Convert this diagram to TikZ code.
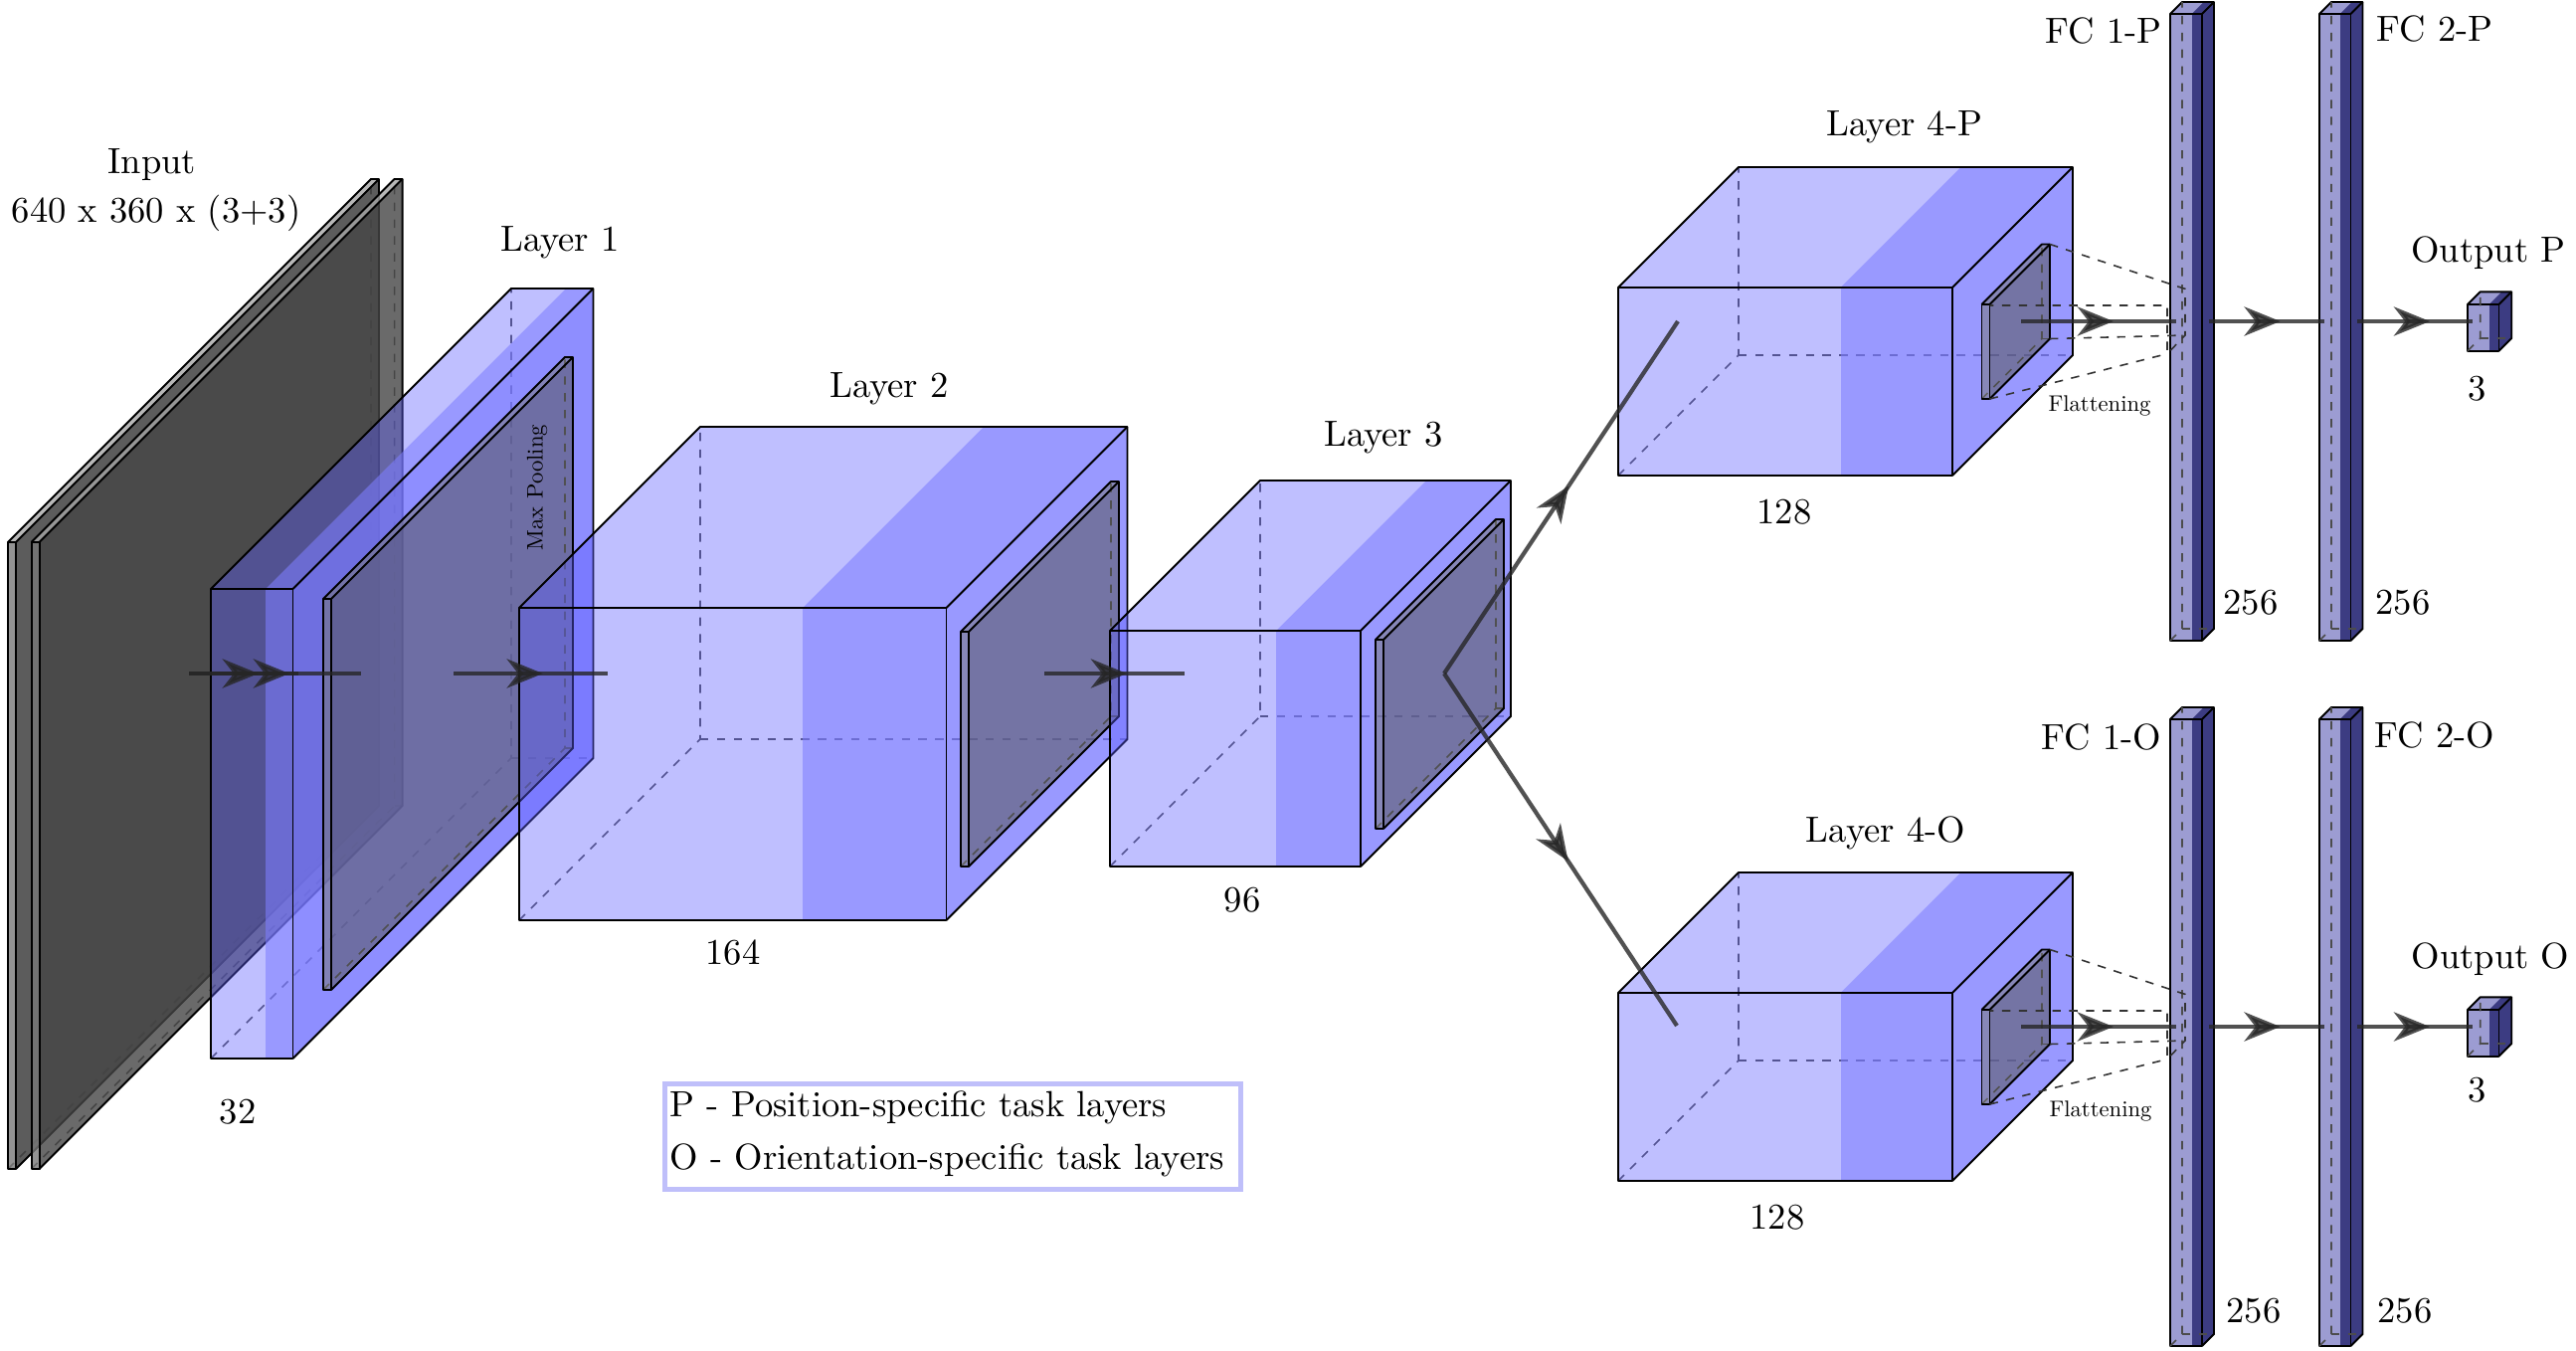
\documentclass[tikz,border=0pt]{standalone}
\usetikzlibrary{arrows.meta,decorations.markings}
\definecolor{lightface}{RGB}{96,96,255}
\definecolor{darkface}{RGB}{119,119,255}
\definecolor{fclight}{RGB}{156,156,210}
\definecolor{fcdark}{RGB}{60,60,130}
\definecolor{legendc}{RGB}{191,191,250}
\tikzset{
  boxedge/.style={draw=black, line width=0.55pt, line join=round},
  hiddenedge/.style={draw=black!70, line width=0.45pt, dash pattern=on 2.4pt off 2.4pt},
  lightf/.style={fill=lightface, fill opacity=0.4},
  darkf/.style={fill=darkface, fill opacity=0.75},
  darkfb/.style={fill=darkface, fill opacity=0.83},
  fcl/.style={fill=fclight},
  fcd/.style={fill=fcdark},
  poolfront/.style={fill=black!53, fill opacity=0.53},
  poolright/.style={fill=black!67, fill opacity=0.53},
  inpfront/.style={fill=black!53, fill opacity=0.8},
  inptop/.style={fill=black!35, fill opacity=0.8},
  inprightA/.style={fill=black!75, fill opacity=0.85},
  inprightB/.style={fill=black!73, fill opacity=0.8},
  flowline/.style={draw=black!85, line width=1.2pt, opacity=0.8},
  midarrow/.style={postaction={decorate,decoration={markings,mark=at position #1 with {\arrow{Stealth[length=10.3pt,width=8.3pt,inset=3.2pt]}}}}},
  lbl/.style={font=\fontsize{10.4}{12.5}\selectfont, inner sep=0pt},
  smalllbl/.style={font=\fontsize{10.4}{12.5}\selectfont, inner sep=0pt, scale=0.62},
  flatline/.style={draw=black!80, line width=0.45pt, dash pattern=on 2.4pt off 2.4pt},
}
% hidden edges: x, ybottom, W, h, d
\newcommand{\LHid}[5]{%
  \draw[hiddenedge] (#1,#2) -- ++(#5,-#5) -- ++(0,-#4);
  \draw[hiddenedge] (#1+#5,#2-#5) -- (#1+#3+#5,#2-#5);
}
% two-part box: x, ybottom, W, split, h, d, light, dark, right
\newcommand{\LBox}[9]{%
  \LHid{#1}{#2}{#3}{#5}{#6}%
  \fill[#7] (#1,#2) rectangle (#1+#4,#2-#5);
  \fill[#7] (#1,#2-#5) -- (#1+#4,#2-#5) -- ++(#6,-#6) -- (#1+#6,#2-#5-#6) -- cycle;
  \fill[#8] (#1+#4,#2) rectangle (#1+#3,#2-#5);
  \fill[#8] (#1+#4,#2-#5) -- (#1+#3,#2-#5) -- ++(#6,-#6) -- (#1+#4+#6,#2-#5-#6) -- cycle;
  \fill[#9] (#1+#3,#2) -- ++(#6,-#6) -- ++(0,-#5) -- (#1+#3,#2-#5) -- cycle;
  \draw[boxedge] (#1,#2) rectangle (#1+#3,#2-#5);
  \draw[boxedge] (#1,#2-#5) -- ++(#6,-#6) -- ++(#3,0) -- ++(0,#5) -- (#1+#3,#2);
  \draw[boxedge] (#1+#3,#2-#5) -- ++(#6,-#6);
}
% slab: x, ybottom, w, h, d, front, top, right
\newcommand{\Slab}[8]{%
  \LHid{#1}{#2}{#3}{#4}{#5}%
  \fill[#6] (#1,#2) rectangle (#1+#3,#2-#4);
  \fill[#7] (#1,#2-#4) -- (#1+#3,#2-#4) -- ++(#5,-#5) -- (#1+#5,#2-#4-#5) -- cycle;
  \fill[#8] (#1+#3,#2) -- ++(#5,-#5) -- ++(0,-#4) -- (#1+#3,#2-#4) -- cycle;
  \draw[boxedge] (#1,#2) rectangle (#1+#3,#2-#4);
  \draw[boxedge] (#1,#2-#4) -- ++(#5,-#5) -- ++(#3,0) -- ++(0,#4) -- (#1+#3,#2);
  \draw[boxedge] (#1+#3,#2-#4) -- ++(#5,-#5);
}
\begin{document}
\begin{tikzpicture}[x=0.01cm,y=-0.01cm]
\useasboundingbox (0,0) rectangle (2590,1357);
% input plates
\Slab{8}{1175}{8}{630}{365}{inpfront}{inptop}{inprightA}
\Slab{31.6}{1175}{8}{630}{365}{inpfront}{inptop}{inprightB}
% layer 1
\LBox{212}{1064}{82.5}{55}{472}{302}{lightf}{darkf}{darkfb}
\Slab{325}{995}{8}{393}{243}{poolfront}{poolfront}{poolright}
% layer 2
\LBox{522}{925}{429.5}{285}{314}{182}{lightf}{darkf}{darkf}
\Slab{966}{871}{8}{236}{151}{poolfront}{poolfront}{poolright}
% layer 3
\LBox{1116}{871}{252}{167}{237}{151}{lightf}{darkf}{darkf}
\Slab{1383}{833}{8}{190}{121}{poolfront}{poolfront}{poolright}
% layer 4
\LBox{1627}{478}{336}{223.5}{189}{121}{lightf}{darkf}{darkf}
\Slab{1992.5}{401}{8}{95}{60.5}{poolfront}{poolfront}{poolright}
\LBox{1627}{1187}{336}{223.5}{189}{121}{lightf}{darkf}{darkf}
\Slab{1992.5}{1110}{8}{95}{60.5}{poolfront}{poolfront}{poolright}
% fully connected
\LBox{2182}{644}{32}{21.5}{630}{12}{fcl}{fcd}{fcd}
\LHid{2182}{644}{32}{630}{12}
\LBox{2332}{644}{31.5}{20.5}{630}{12}{fcl}{fcd}{fcd}
\LHid{2332}{644}{31.5}{630}{12}
\LBox{2182}{1353}{32}{21.5}{630}{12}{fcl}{fcd}{fcd}
\LHid{2182}{1353}{32}{630}{12}
\LBox{2332}{1353}{31.5}{20.5}{630}{12}{fcl}{fcd}{fcd}
\LHid{2332}{1353}{31.5}{630}{12}
% outputs
\LBox{2481}{352.7}{31.5}{21.5}{46.7}{12.7}{fcl}{fcd}{fcd}
\LHid{2481}{352.7}{31.5}{46.7}{12.7}
\LBox{2481}{1061.7}{31.5}{21.5}{46.7}{12.7}{fcl}{fcd}{fcd}
\LHid{2481}{1061.7}{31.5}{46.7}{12.7}
% flattening (P)
\coordinate (pbt) at (2061,245.5); \coordinate (pft) at (2000.5,307);
\coordinate (pbb) at (2061,340.5); \coordinate (pfb) at (2000.5,401);
\coordinate (qft) at (2179,307); \coordinate (qfb) at (2179,355.6);
\coordinate (qbt) at (2197,290.4); \coordinate (qbb) at (2197,337);
\draw[flatline] (pbt) -- (qbt) -- (qbb) -- (qfb) -- (qft) -- (pft);
\draw[flatline] (pbb) -- (qbb); \draw[flatline] (pfb) -- (qfb);
% flattening (O)
\coordinate (obt) at (2061,954.5); \coordinate (oft) at (2000.5,1016);
\coordinate (obb) at (2061,1049.5); \coordinate (ofb) at (2000.5,1110);
\coordinate (rft) at (2179,1016); \coordinate (rfb) at (2179,1064.6);
\coordinate (rbt) at (2197,999.4); \coordinate (rbb) at (2197,1046);
\draw[flatline] (obt) -- (rbt) -- (rbb) -- (rfb) -- (rft) -- (oft);
\draw[flatline] (obb) -- (rbb); \draw[flatline] (ofb) -- (rfb);
% arrows
\coordinate (in0) at (190,677); \coordinate (in1) at (300,677); \coordinate (in2) at (363,677);
\coordinate (a12s) at (456,677); \coordinate (a12e) at (611,677);
\coordinate (a23s) at (1050,677); \coordinate (a23e) at (1191,677);
\coordinate (br) at (1452,677); \coordinate (brp) at (1687,323); \coordinate (bro) at (1686,1031);
\coordinate (fps) at (2032,323); \coordinate (fpe) at (2188,323);
\coordinate (gps) at (2220.5,323); \coordinate (gpe) at (2337,323);
\coordinate (hps) at (2370,323); \coordinate (hpe) at (2486,323);
\coordinate (fos) at (2032,1032); \coordinate (foe) at (2188,1032);
\coordinate (gos) at (2220.5,1032); \coordinate (goe) at (2337,1032);
\coordinate (hos) at (2370,1032); \coordinate (hoe) at (2486,1032);
\draw[flowline, midarrow=0.636] (in0) -- (in1);
\draw[flowline, midarrow=0.584] (in0) -- (in2);
\draw[flowline, midarrow=0.58] (a12s) -- (a12e);
\draw[flowline, midarrow=0.589] (a23s) -- (a23e);
\draw[flowline, midarrow=0.533] (br) -- (brp);
\draw[flowline, midarrow=0.533] (br) -- (bro);
\draw[flowline, midarrow=0.596] (fps) -- (fpe);
\draw[flowline, midarrow=0.62] (gps) -- (gpe);
\draw[flowline, midarrow=0.63] (hps) -- (hpe);
\draw[flowline, midarrow=0.596] (fos) -- (foe);
\draw[flowline, midarrow=0.62] (gos) -- (goe);
\draw[flowline, midarrow=0.63] (hos) -- (hoe);
% labels
\node[lbl] (tinput) at (153,166) {Input};
\node[lbl] (tdims) at (157,214) {640 x 360 x (3+3)};
\node[lbl] (tl1) at (563,244) {Layer 1};
\node[smalllbl, rotate=90] (tmax) at (540,490) {Max Pooling};
\node[lbl] (t32) at (239,1118) {32};
\node[lbl] (tl2) at (894,391) {Layer 2};
\node[lbl] (t164) at (737,958) {164};
\node[lbl] (tl3) at (1391,440) {Layer 3};
\node[lbl] (t96) at (1249,905) {96};
\node[lbl] (tl4p) at (1915,128) {Layer 4-P};
\node[lbl] (t128p) at (1794,515) {128};
\node[lbl] (tl4o) at (1896,837) {Layer 4-O};
\node[lbl] (t128o) at (1787,1224) {128};
\node[smalllbl] (tflp) at (2111,408) {Flattening};
\node[smalllbl] (tflo) at (2112,1117) {Flattening};
\node[lbl] (tfc1p) at (2115,31) {FC 1-P};
\node[lbl] (tfc2p) at (2448,29) {FC 2-P};
\node[lbl] (tfc1o) at (2113,741) {FC 1-O};
\node[lbl] (tfc2o) at (2448,739) {FC 2-O};
\node[lbl] (t256a) at (2263,606) {256};
\node[lbl] (t256b) at (2416,606) {256};
\node[lbl] (t256c) at (2266,1318) {256};
\node[lbl] (t256d) at (2418,1318) {256};
\node[lbl] (toutp) at (2502,254) {Output P};
\node[lbl] (touto) at (2504,964) {Output O};
\node[lbl] (t3p) at (2491,391) {3};
\node[lbl] (t3o) at (2491,1096) {3};
% legend
\node[draw=legendc, line width=1.4pt, minimum width=5.79cm, minimum height=1.06cm, anchor=north west, inner sep=0pt] (legendbox) at (666,1087) {};
\node[lbl, anchor=west, align=left, font=\fontsize{10.4}{15.2}\selectfont] (legendtext) at (673,1140) {P - Position-specific task layers\\O - Orientation-specific task layers};
\end{tikzpicture}
\end{document}
